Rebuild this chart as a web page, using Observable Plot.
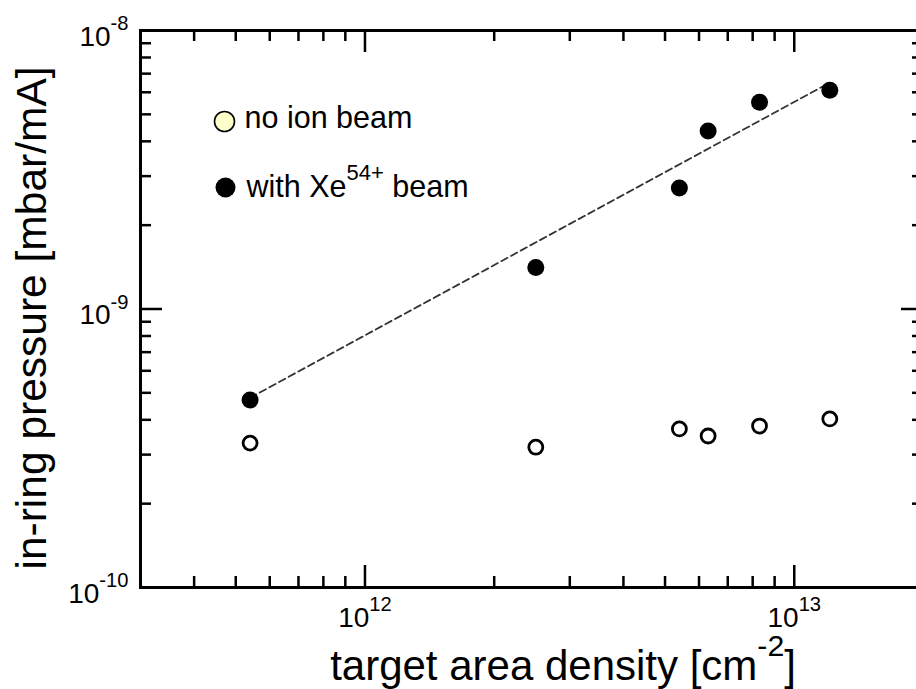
<!DOCTYPE html>
<html>
<head>
<meta charset="utf-8">
<script src="https://cdn.jsdelivr.net/npm/d3@7"></script>
<script src="https://cdn.jsdelivr.net/npm/@observablehq/plot@0.6"></script>
<style>
  html, body { margin: 0; padding: 0; background: white; }
  #chart { width: 916px; height: 689px; overflow: hidden; }
</style>
</head>
<body>
<div id="chart"></div>
<script>
// Target area density [cm^-2] for each measurement
const densities = [5.4e11, 2.5e12, 5.4e12, 6.3e12, 8.3e12, 1.21e13];
// In-ring pressure [mbar/mA]
const pressureNoBeam = [3.30e-10, 3.19e-10, 3.71e-10, 3.50e-10, 3.80e-10, 4.03e-10];
const pressureWithBeam = [4.71e-10, 1.41e-9, 2.72e-9, 4.36e-9, 5.53e-9, 6.10e-9];
// Power-law fit through the with-beam data (end points)
const fitDensity = [5.4e11, 1.21e13];
const fitPressure = [4.8e-10, 6.5e-9];

// Axis ticks
const xMajor = [1e12, 1e13];
const xMajorLabels = ["10^{12}", "10^{13}"];
const xMinor = [4e11, 5e11, 6e11, 7e11, 8e11, 9e11, 2e12, 3e12, 4e12, 5e12, 6e12, 7e12, 8e12, 9e12];
const yMajor = [1e-10, 1e-9, 1e-8];
const yMajorLabels = ["10^{-10}", "10^{-9}", "10^{-8}"];
const yMinor = [2e-10, 3e-10, 4e-10, 5e-10, 6e-10, 7e-10, 8e-10, 9e-10,
                2e-9, 3e-9, 4e-9, 5e-9, 6e-9, 7e-9, 8e-9, 9e-9];

const legendLabels = ["no ion beam", "with Xe^{54+} beam"];

const W = 930, H = 689;
const M = {top: 30, right: 7, bottom: 102, left: 140};
const frameW = W - M.left - M.right;
const frameH = H - M.top - M.bottom;
const majorLen = 22, minorLen = 11;
const tickW = 2.5;
const font = "'Liberation Sans', Arial, Helvetica, sans-serif";

const noBeam = densities.map((d, i) => ({density: d, pressure: pressureNoBeam[i]}));
const withBeam = densities.map((d, i) => ({density: d, pressure: pressureWithBeam[i]}));
const fit = fitDensity.map((d, i) => ({density: d, pressure: fitPressure[i]}));

const inward = (vals, len, side) => {
  const o = {stroke: "black", strokeWidth: tickW};
  if (side === "bottom") return Plot.tickX(vals, {x: d => d, insetTop: frameH - len, ...o});
  if (side === "top") return Plot.tickX(vals, {x: d => d, insetBottom: frameH - len, ...o});
  if (side === "left") return Plot.tickY(vals, {y: d => d, insetRight: frameW - len, ...o});
  return Plot.tickY(vals, {y: d => d, insetLeft: frameW - len, ...o});
};

const svg = Plot.plot({
  width: W,
  height: H,
  marginTop: M.top,
  marginRight: M.right,
  marginBottom: M.bottom,
  marginLeft: M.left,
  style: {maxWidth: "none", fontFamily: font, background: "white", color: "black"},
  x: {type: "log", domain: [3e11, 2e13], axis: null},
  y: {type: "log", domain: [1e-10, 1e-8], axis: null},
  marks: [
    // ticks on all four sides, pointing inward
    inward(xMajor, majorLen, "bottom"),
    inward(xMinor, minorLen, "bottom"),
    inward(xMajor, majorLen, "top"),
    inward(xMinor, minorLen, "top"),
    inward(yMajor, majorLen, "left"),
    inward(yMinor, minorLen, "left"),
    inward(yMajor, majorLen, "right"),
    inward(yMinor, minorLen, "right"),
    Plot.frame({stroke: "black", strokeWidth: 3}),

    // tick labels
    Plot.text(xMajor, {x: d => d, text: (d, i) => xMajorLabels[i], frameAnchor: "bottom",
      dy: 39, lineAnchor: "bottom", textAnchor: "middle", fontSize: 28, fill: "black"}),
    Plot.text(yMajor, {y: d => d, text: (d, i) => yMajorLabels[i], frameAnchor: "left",
      dx: -12, dy: 15, lineAnchor: "bottom", textAnchor: "end", fontSize: 28, fill: "black"}),

    // axis titles
    Plot.text(["target area density [cm^{-2}]"], {text: d => d, frameAnchor: "bottom", ariaLabel: "x-title",
      dx: 31, dy: 92, lineAnchor: "bottom", textAnchor: "middle", fontSize: 42, fill: "black"}),
    Plot.text(["in-ring pressure [mbar/mA]"], {text: d => d, frameAnchor: "left", rotate: -90,
      dx: -95, dy: 9, lineAnchor: "bottom", textAnchor: "middle", fontSize: 42.5, fill: "black"}),

    // fit line and measurements
    Plot.line(fit, {x: "density", y: "pressure", stroke: "#333", strokeWidth: 1.8, strokeDasharray: "7,4"}),
    Plot.dot(withBeam, {x: "density", y: "pressure", r: 8.5, fill: "black", stroke: "none"}),
    Plot.dot(noBeam, {x: "density", y: "pressure", r: 7, fill: "white", stroke: "black", strokeWidth: 2.8}),

    // legend
    Plot.dot([0], {frameAnchor: "top-left", dx: 84, dy: 91, r: 10, fill: "#ffffcc", stroke: "black", strokeWidth: 1.6}),
    Plot.dot([0], {frameAnchor: "top-left", dx: 85, dy: 157, r: 10, fill: "black", stroke: "none"}),
    Plot.text([legendLabels[0]], {text: d => d, frameAnchor: "top-left", dx: 104, dy: 97,
      lineAnchor: "bottom", textAnchor: "start", fontSize: 30.5, fill: "black"}),
    Plot.text([legendLabels[1]], {text: d => d, frameAnchor: "top-left", dx: 106, dy: 166,
      lineAnchor: "bottom", textAnchor: "start", fontSize: 30.5, fill: "black"})
  ]
});

// Render "^{...}" in text as a raised, smaller tspan
function applySuperscripts(root, ratio = 0.72, raise = 0.55) {
  d3.select(root).selectAll("text").each(function () {
    const el = d3.select(this);
    const s = el.text();
    if (!s.includes("^{")) return;
    const parts = s.split(/(\^\{[^}]*\})/).filter(p => p.length);
    el.text(null);
    let raised = false;
    for (const p of parts) {
      const m = p.match(/^\^\{([^}]*)\}$/);
      const ts = el.append("tspan");
      if (m) {
        ts.attr("font-size", `${ratio}em`).attr("dy", `${-raise / ratio}em`).text(m[1]);
        raised = true;
      } else {
        if (raised) ts.attr("dy", `${raise}em`);
        ts.text(p);
        raised = false;
      }
    }
  });
}
applySuperscripts(svg.querySelector('[aria-label="x-title"]'), 0.64, 0.44);
applySuperscripts(svg);

document.getElementById("chart").appendChild(svg);
</script>
</body>
</html>
